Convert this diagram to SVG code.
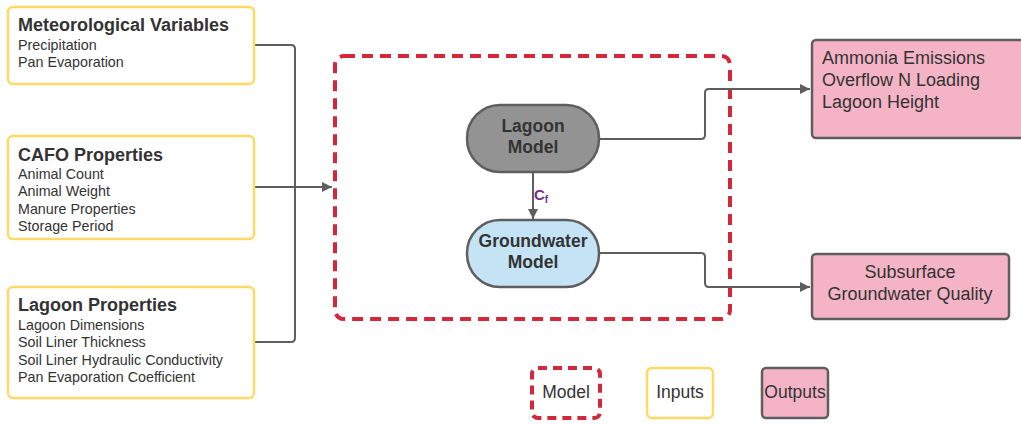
<svg xmlns="http://www.w3.org/2000/svg" width="1021" height="424" viewBox="0 0 1021 424">
<defs>
<style>
text{font-family:"Liberation Sans",Arial,sans-serif;fill:#333}
.inp{fill:#fff;stroke:#fed966;stroke-width:2.5}
.out{fill:#f4b4c6;stroke:#5e5e5e;stroke-width:2.5}
.mdl{fill:none;stroke:#d2283b;stroke-width:4;stroke-dasharray:11 7}
.h{font-size:18px;font-weight:bold}
.s{font-size:14.3px}
.n{font-size:17.5px;font-weight:bold;text-anchor:middle}
.o{font-size:18px}
.c{fill:none;stroke:#5e5e5e;stroke-width:2}
</style>
<marker id="ah" viewBox="0 0 10 10" refX="10" refY="5" markerWidth="11" markerHeight="10" markerUnits="userSpaceOnUse" orient="auto"><path d="M0,0 L10,5 L0,10 z" fill="#5e5e5e"/></marker>
</defs>
<rect width="1021" height="424" fill="#fff"/>
<g id="model-boundary"><rect class="mdl" x="335" y="56" width="395" height="263" rx="9"/></g>
<g id="connectors">
<path class="c" d="M254,45 H291 Q295,45 295,49 V187"/>
<path class="c" d="M254,342 H291 Q295,342 295,338 V187"/>
<path class="c" d="M254,187 H332" marker-end="url(#ah)"/>
<path class="c" d="M533,172 V219" marker-end="url(#ah)"/>
<path class="c" d="M599,139 H701 Q705,139 705,135 V93 Q705,89 709,89 H810" marker-end="url(#ah)"/>
<path class="c" d="M599,253 H701 Q705,253 705,257 V283 Q705,287 709,287 H810" marker-end="url(#ah)"/>
<text x="534" y="200" font-size="15" font-weight="bold" style="fill:#7a2a8c">C<tspan font-size="10" dy="3">f</tspan></text>
</g>
<g id="meteorological">
<rect class="inp" x="8" y="7" width="246" height="77" rx="5"/>
<text class="h" x="18" y="31">Meteorological Variables</text>
<text class="s" x="18" y="50">Precipitation</text>
<text class="s" x="18" y="67">Pan Evaporation</text>
</g>
<g id="cafo">
<rect class="inp" x="8" y="136" width="246" height="103" rx="5"/>
<text class="h" x="18" y="161">CAFO Properties</text>
<text class="s" x="18" y="179">Animal Count</text>
<text class="s" x="18" y="196">Animal Weight</text>
<text class="s" x="18" y="214">Manure Properties</text>
<text class="s" x="18" y="231">Storage Period</text>
</g>
<g id="lagoon-props">
<rect class="inp" x="8" y="287" width="246" height="111" rx="5"/>
<text class="h" x="18" y="311">Lagoon Properties</text>
<text class="s" x="18" y="330">Lagoon Dimensions</text>
<text class="s" x="18" y="347">Soil Liner Thickness</text>
<text class="s" x="18" y="365">Soil Liner Hydraulic Conductivity</text>
<text class="s" x="18" y="382">Pan Evaporation Coefficient</text>
</g>
<g id="lagoon-model">
<rect x="467" y="105" width="132" height="67" rx="33" fill="#939393" stroke="#5e5e5e" stroke-width="2.5"/>
<text class="n" x="533" y="132">Lagoon</text>
<text class="n" x="533" y="153">Model</text>
</g>
<g id="groundwater-model">
<rect x="467" y="220" width="132" height="67" rx="33" fill="#c4e4f6" stroke="#5e5e5e" stroke-width="2.5"/>
<text class="n" x="533" y="247">Groundwater</text>
<text class="n" x="533" y="268">Model</text>
</g>
<g id="out-emissions">
<rect class="out" x="812" y="40" width="212" height="98" rx="4"/>
<text class="o" x="822" y="64">Ammonia Emissions</text>
<text class="o" x="822" y="86">Overflow N Loading</text>
<text class="o" x="822" y="108">Lagoon Height</text>
</g>
<g id="out-groundwater">
<rect class="out" x="812" y="254" width="197" height="65" rx="4"/>
<text class="o" x="910" y="278" text-anchor="middle">Subsurface</text>
<text class="o" x="910" y="300" text-anchor="middle">Groundwater Quality</text>
</g>
<g id="legend-model">
<rect class="mdl" x="532" y="368" width="68" height="50" rx="6" style="stroke-dasharray:9 6"/>
<text x="566" y="398" font-size="17.5" text-anchor="middle">Model</text>
</g>
<g id="legend-inputs">
<rect class="inp" x="647" y="368" width="66" height="50" rx="5"/>
<text x="680" y="398" font-size="17.5" text-anchor="middle">Inputs</text>
</g>
<g id="legend-outputs">
<rect class="out" x="762" y="368" width="66" height="50" rx="4"/>
<text x="795" y="398" font-size="17.5" text-anchor="middle">Outputs</text>
</g>
</svg>
